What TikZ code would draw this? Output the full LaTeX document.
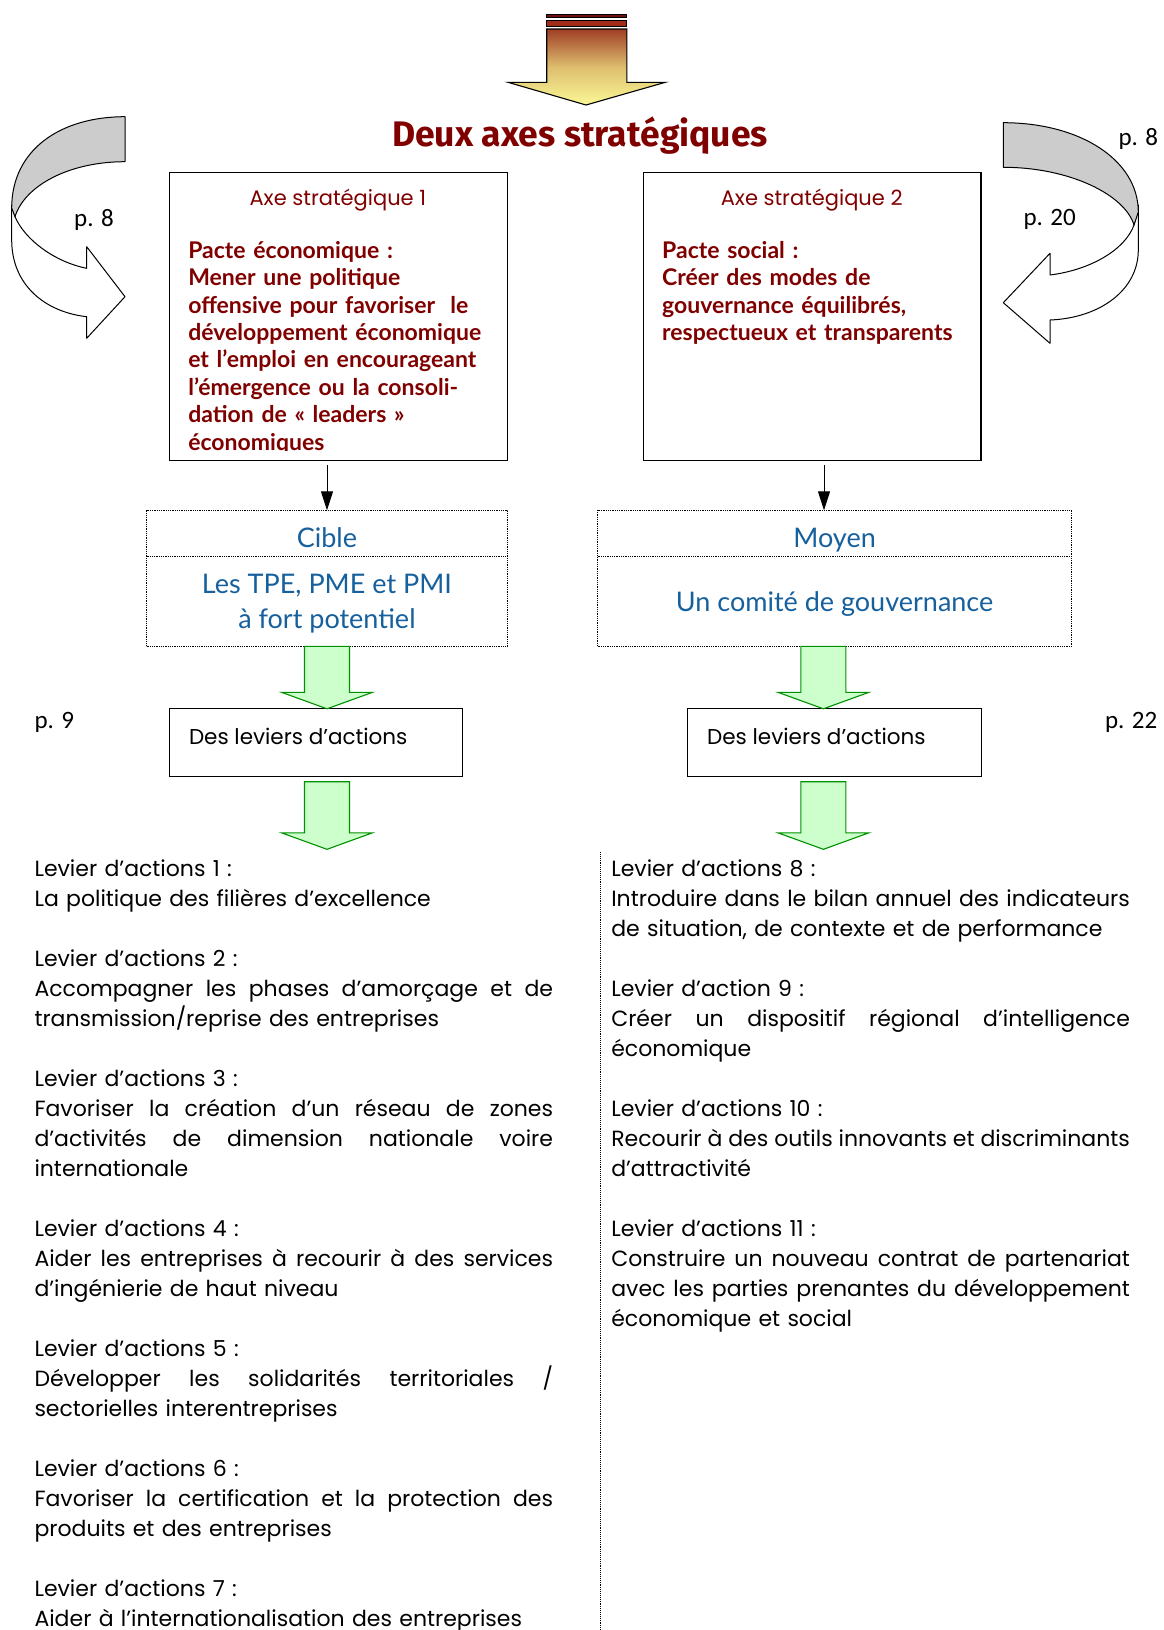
\documentclass[tikz,border=0pt]{standalone}
\usepackage{fontspec}
\setmainfont{Lato}
\newfontfamily\bodyfont{Poppins}
\newfontfamily\titlefont{Fira Sans}
\newfontfamily\pagefont{Carlito}
\usetikzlibrary{arrows.meta,calc}
\definecolor{axered}{RGB}{128,0,0}
\definecolor{axeblue}{RGB}{22,96,158}
\definecolor{garrowline}{RGB}{0,145,0}
\definecolor{garrowfill}{RGB}{204,255,204}
\definecolor{curvegray}{RGB}{204,204,204}
\definecolor{stripeA}{RGB}{110,15,15}
\definecolor{stripeB}{RGB}{160,45,25}
\definecolor{shadetop}{RGB}{160,62,38}
\definecolor{shademid}{RGB}{222,190,110}
\definecolor{shadebot}{RGB}{250,248,150}
\newcommand\jl[1]{\makebox[518.6pt][s]{\spaceskip=0.25em plus 10em minus 0.05em\relax #1}}
\begin{document}
\begin{tikzpicture}[x=1pt,y=-1pt,
 framebox/.style={draw=black, line width=1.3pt, inner sep=0pt, outer sep=0pt, anchor=north west},
 dotbox/.style={draw=black, densely dotted, line width=0.8pt, inner sep=0pt, outer sep=0pt, anchor=north west},
 greenarrow/.style={draw=garrowline, fill=garrowfill, line width=1.1pt, line join=miter},
 blackarrow/.style={draw=black, line width=0.9pt, -{Triangle[width=12pt,length=19pt]}},
 curvearrow/.style={draw=black, line width=1pt, line join=round},
 axelabel/.style={inner sep=0pt, text=axered, font=\bodyfont\fontsize{21}{24}\selectfont, anchor=base},
 pacte/.style={inner sep=0pt, text=axered, font=\fontsize{23}{27.4}\selectfont\bfseries, align=left, anchor=base west, text width=330pt},
 bluetext/.style={inner sep=0pt, text=axeblue, font=\fontsize{27}{35}\selectfont, anchor=base},
 levtext/.style={inner sep=0pt, font=\bodyfont\fontsize{21.5}{26}\selectfont, anchor=base west},
 listtext/.style={inner sep=0pt, font=\bodyfont\fontsize{22}{30}\selectfont, align=left, anchor=base west, text width=518.6pt},
 pagelabel/.style={inner sep=0pt, font=\pagefont\fontsize{25}{28}\selectfont, anchor=base west},
]
\path[use as bounding box, fill=white] (0,0) rectangle (1163,1630);

% top arrow
\draw[line width=0.8pt, fill=stripeA] (546.7,14) rectangle (626.8,17.3);
\draw[line width=0.8pt, fill=stripeB] (546.7,20.5) rectangle (626.8,26.7);
\draw[line width=1.1pt, top color=shadetop, bottom color=shadebot, middle color=shademid]
  (546.7,29) -- (626.8,29) -- (626.8,82.3) -- (665.4,82.3) -- (586,105) -- (508,82.3) -- (546.7,82.3) -- cycle;

% title
\node[inner sep=0pt, anchor=base, text=axered, font=\titlefont\bfseries\fontsize{35.5}{40}\selectfont] (title) at (580,146) {Deux axes stratégiques};

% left curved arrow
\draw[curvearrow, fill=white] (11.7,205) -- (11.7,240) .. controls (11.7,285) and (45,312) .. (86.7,316.7)
  -- (86.7,338.3) -- (125,296.7) -- (86.7,246.7) -- (86.7,268.3)
  .. controls (55,262) and (25,240) .. (15,216.7) -- cycle;
\draw[curvearrow, fill=curvegray] (125,116.7) .. controls (60,116.7) and (11.7,150) .. (11.7,208)
  -- (15,216.7) .. controls (25,185) and (70,161.7) .. (125,161.7) -- cycle;

% right curved arrow
\draw[curvearrow, fill=white] (1138.3,205) -- (1138.3,250) .. controls (1138.3,290) and (1100,318) .. (1050,320)
  -- (1050,343.3) -- (1003.3,302.7) -- (1050,253.3) -- (1050,275)
  .. controls (1090,270) and (1125,250) .. (1134,225) -- cycle;
\draw[curvearrow, fill=curvegray] (1003.3,122.7) .. controls (1080,122.7) and (1138.3,160) .. (1138.3,212)
  -- (1134,225) .. controls (1125,195) and (1070,167.3) .. (1003.3,167.3) -- cycle;

% page labels
\node[pagelabel] (p8l) at (74,226.7) {p. 8};
\node[pagelabel] (p20) at (1023.3,225) {p. 20};
\node[pagelabel] (p8r) at (1118.3,145) {p. 8};
\node[pagelabel] (p9) at (34.3,728.8) {p. 9};
\node[pagelabel] (p22) at (1104.8,728.8) {p. 22};

% strategic axis boxes
\node[framebox, minimum width=337.8pt, minimum height=287.9pt] (axe1) at (169.4,172.5) {};
\node[framebox, minimum width=337.8pt, minimum height=287.9pt] (axe2) at (643.3,172.5) {};
\node[axelabel] (axe1t) at (337.8,205) {Axe stratégique 1};
\node[axelabel] (axe2t) at (811.7,205) {Axe stratégique 2};
\begin{scope}
\clip (169.4,172.5) rectangle (507.2,450.6);
\node[pacte] (pacte1) at (188.1,258.3) {Pacte économique :\\
Mener une politique\\
offensive pour favoriser\ \ le\\
développement économique\\
et l’emploi en encourageant\\
l’émergence ou la consoli-\\
dation de « leaders »\\
économiques};
\end{scope}
\node[pacte] (pacte2) at (662,258.3) {Pacte social :\\
Créer des modes de\\
gouvernance équilibrés,\\
respectueux et transparents};

% target / means boxes
\node[dotbox, minimum width=360.7pt, minimum height=136.1pt] (cible) at (146.5,510.3) {};
\node[dotbox, minimum width=473.9pt, minimum height=136.1pt] (moyen) at (597.6,510.3) {};
\draw[densely dotted, line width=0.8pt] (cible.west |- 0,556) -- (cible.east |- 0,556);
\draw[densely dotted, line width=0.8pt] (moyen.west |- 0,556) -- (moyen.east |- 0,556);
\node[bluetext] (cibleh) at (326.9,547.3) {Cible};
\node[bluetext] (cible1) at (326.9,593.3) {Les TPE, PME et PMI};
\node[bluetext] (cible2) at (326.9,628.3) {à fort potentiel};
\node[bluetext] (moyenh) at (834.6,547.3) {Moyen};
\node[bluetext] (moyen1) at (834.6,611.7) {Un comité de gouvernance};

\draw[blackarrow] ($(327,0 |- axe1.south)+(0,4.6)$) -- (327,0 |- cible.north);
\draw[blackarrow] ($(824,0 |- axe2.south)+(0,4.6)$) -- (824,0 |- moyen.north);

% lever boxes
\node[framebox, minimum width=293.1pt, minimum height=67.6pt] (lev1) at (169.4,708.8) {};
\node[framebox, minimum width=293.9pt, minimum height=67.6pt] (lev2) at (687.6,708.8) {};
\node[levtext] (lev1t) at (188.8,744) {Des leviers d’actions};
\node[levtext] (lev2t) at (707,744) {Des leviers d’actions};

% green block arrows
\coordinate (tip1) at (327,849.3);
\coordinate (tip2) at (823.4,849.3);
\draw[greenarrow] let \p1=(327,0 |- cible.south), \p2=(327,0 |- lev1.north) in
  (\x1-22.5pt,\y1) -- (\x1+22.5pt,\y1) -- (\x1+22.5pt,\y2+16.5pt) -- (\x1+45.5pt,\y2+16.5pt)
  -- (\x1,\y2) -- (\x1-45.5pt,\y2+16.5pt) -- (\x1-22.5pt,\y2+16.5pt) -- cycle;
\draw[greenarrow] let \p1=($(327,0 |- lev1.south)+(0,5.3)$), \p2=(tip1) in
  (\x1-22.5pt,\y1) -- (\x1+22.5pt,\y1) -- (\x1+22.5pt,\y2+16.5pt) -- (\x1+45.5pt,\y2+16.5pt)
  -- (\x1,\y2) -- (\x1-45.5pt,\y2+16.5pt) -- (\x1-22.5pt,\y2+16.5pt) -- cycle;
\draw[greenarrow] let \p1=(823.4,0 |- moyen.south), \p2=(823.4,0 |- lev2.north) in
  (\x1-22.5pt,\y1) -- (\x1+22.5pt,\y1) -- (\x1+22.5pt,\y2+16.5pt) -- (\x1+45.5pt,\y2+16.5pt)
  -- (\x1,\y2) -- (\x1-45.5pt,\y2+16.5pt) -- (\x1-22.5pt,\y2+16.5pt) -- cycle;
\draw[greenarrow] let \p1=($(823.4,0 |- lev2.south)+(0,5.3)$), \p2=(tip2) in
  (\x1-22.5pt,\y1) -- (\x1+22.5pt,\y1) -- (\x1+22.5pt,\y2+16.5pt) -- (\x1+45.5pt,\y2+16.5pt)
  -- (\x1,\y2) -- (\x1-45.5pt,\y2+16.5pt) -- (\x1-22.5pt,\y2+16.5pt) -- cycle;

% separator
\coordinate (sepTop) at (600.7,852);
\coordinate (sepBot) at (600.7,1630);
\draw[densely dotted, line width=0.9pt] (sepTop) -- (sepBot);

% lists
\node[listtext] (list1) at (34.3,876.7) {Levier d’actions 1 :\\
La politique des filières d’excellence\\[30pt]
Levier d’actions 2 :\\
\jl{Accompagner les phases d’amorçage et de}\\
transmission/reprise des entreprises\\[30pt]
Levier d’actions 3 :\\
\jl{Favoriser la création d’un réseau de zones}\\
\jl{d’activités de dimension nationale voire}\\
internationale\\[30pt]
Levier d’actions 4 :\\
\jl{Aider les entreprises à recourir à des services}\\
d’ingénierie de haut niveau\\[30pt]
Levier d’actions 5 :\\
\jl{Développer les solidarités territoriales /}\\
sectorielles interentreprises\\[30pt]
Levier d’actions 6 :\\
\jl{Favoriser la certification et la protection des}\\
produits et des entreprises\\[30pt]
Levier d’actions 7 :\\
Aider à l’internationalisation des entreprises};

\node[listtext] (list2) at (611.1,876.7) {Levier d’actions 8 :\\
\jl{Introduire dans le bilan annuel des indicateurs}\\
de situation, de contexte et de performance\\[30pt]
Levier d’action 9 :\\
\jl{Créer un dispositif régional d’intelligence}\\
économique\\[30pt]
Levier d’actions 10 :\\
\jl{Recourir à des outils innovants et discriminants}\\
d’attractivité\\[30pt]
Levier d’actions 11 :\\
\jl{Construire un nouveau contrat de partenariat}\\
\jl{avec les parties prenantes du développement}\\
économique et social};
\end{tikzpicture}
\end{document}
